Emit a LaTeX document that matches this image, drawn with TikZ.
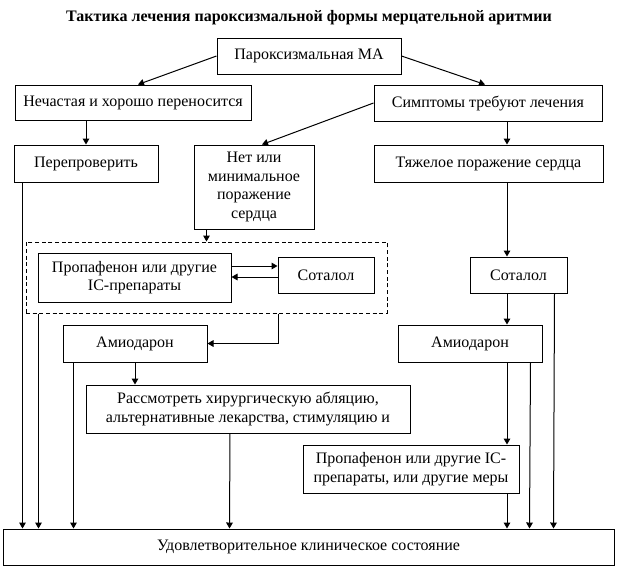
\documentclass[tikz,border=0pt]{standalone}
\usepackage{fontspec}
\setmainfont{Liberation Serif}
\usetikzlibrary{arrows.meta,calc}

\begin{document}
\begin{tikzpicture}[x=0.75pt,y=-0.75pt,
    box/.style={draw, line width=0.75pt, inner sep=2pt, align=center,
        font=\fontsize{12}{14}\selectfont},
    boxsize/.style 2 args={minimum width=#1*0.75pt, minimum height=#2*0.75pt},
    arr/.style={-{Triangle[width=5pt,length=4.5pt]}, line width=0.75pt},
    line/.style={line width=0.75pt}]

    \useasboundingbox (0,0) rectangle (618,569);

    % --- Title ---
    \node[font=\bfseries\fontsize{12}{14}\selectfont] (title) at (309,18)
        {Тактика лечения пароксизмальной формы мерцательной аритмии};

    % --- Boxes ---
    \node[box, boxsize={184}{36}] (pma) at (309,56) {Пароксизмальная МА};
    \node[box, boxsize={236}{35}] (rare) at (133,102.5) {Нечастая и хорошо переносится};
    \node[box, boxsize={228}{36}] (symp) at (488,103) {Симптомы требуют лечения};
    \node[box, boxsize={144}{37}] (recheck) at (86,163.5) {Перепроверить};
    \node[box, boxsize={120}{84}] (minimal) at (254,187)
        {Нет или\\минимальное\\поражение\\сердца};
    \node[box, boxsize={229}{37}] (severe) at (488.5,163.5) {Тяжелое поражение сердца};

    % dashed group round the left pair
    \node[draw, line width=0.75pt, dash pattern=on 3pt off 2pt,
        boxsize={361}{71}] (group) at (206.5,277.5) {};
    \node[box, boxsize={193}{49}] (propL) at (134.5,277.5)
        {Пропафенон или другие\\IC-препараты};
    \node[box, boxsize={96}{36}] (sotL) at (326,275) {Соталол};
    \node[box, boxsize={97}{36}] (sotR) at (518.5,275) {Соталол};

    \node[box, boxsize={144}{37}] (amiL) at (135,343.5) {Амиодарон};
    \node[box, boxsize={144}{37}] (amiR) at (470,343.5) {Амиодарон};
    \node[box, boxsize={324}{48}] (consider) at (248,409)
        {Рассмотреть хирургическую абляцию,\\альтернативные лекарства, стимуляцию и};
    \node[box, boxsize={216}{48}] (propR) at (411,469)
        {Пропафенон или другие IC-\\препараты, или другие меры};
    \node[box, boxsize={611}{36}] (final) at (308.5,547)
        {Удовлетворительное клиническое состояние};

    % --- Right column line ---
    \coordinate (spine) at (507,0);

    % --- Connectors, upper part ---
    \draw[arr] (pma.west) -- ($(rare.north)+(5,0)$);
    \draw[arr] (pma.east) -- ($(symp.north)+(-3,0)$);
    \draw[arr] (recheck.north |- rare.south) -- (recheck.north);
    \draw[arr] (symp.west) -- ($(minimal.north)+(8,0)$);
    \draw[arr] (spine |- symp.south) -- (spine |- severe.north);
    \draw[arr] ($(minimal.south west)+(13,0)$) -- ($(group.north west)+(181,0)$);

    % --- Inside the dashed group ---
    \draw[arr] ($(propL.east)+(0,-11.5)$) -- ($(sotL.west)+(0,-9)$);
    \draw[arr] ($(sotL.west)+(0,2)$) -- ($(propL.east)+(0,-0.5)$);

    % --- Middle part ---
    \draw[arr] ($(group.south west)+(253,0)$) |- (amiL.east);
    \draw[arr] (amiL.south) -- (amiL.south |- consider.north);
    \draw[arr] (spine |- severe.south) -- (spine |- sotR.north);
    \draw[arr] (spine |- sotR.south) -- (spine |- amiR.north);
    \draw[arr] (spine |- amiR.south) -- (spine |- propR.north);

    % --- Lines down to the final box ---
    \draw[arr] ($(recheck.south west)+(9,0)$) -- ($(final.north west)+(20,0)$);
    \draw[arr] ($(group.south west)+(13,0)$) -- ($(final.north west)+(36,0)$);
    \draw[arr] ($(amiL.south west)+(11,0)$) -- ($(final.north west)+(71,0)$);
    \draw[arr] ($(consider.south)+(-18,0)$) -- ($(final.north west)+(227,0)$);
    \draw[arr] (spine |- propR.south) -- (spine |- final.north);
    \draw[arr] ($(amiR.south east)+(-12,0)$) -- ($(final.north west)+(527,0)$);
    \draw[arr] ($(sotR.south east)+(-13,0)$) -- ($(final.north west)+(551,0)$);

\end{tikzpicture}
\end{document}
